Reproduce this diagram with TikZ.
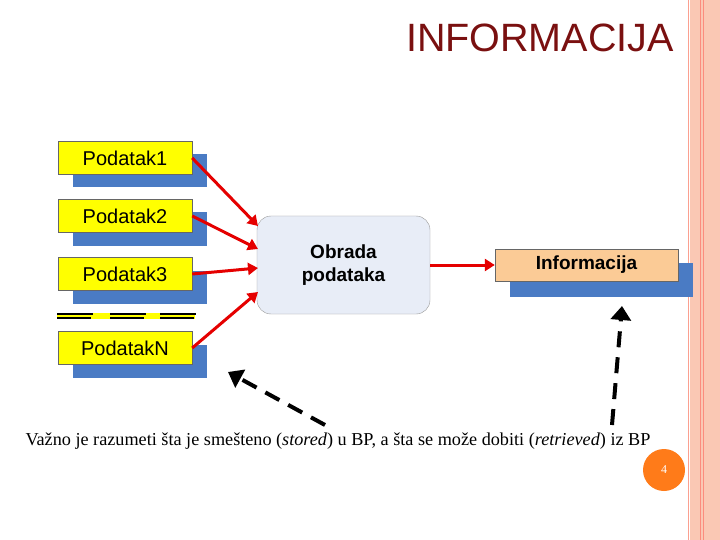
\documentclass[tikz,border=0pt]{standalone}
\usepackage{fontspec}
\setmainfont{Liberation Sans}
\newfontfamily\tms{Liberation Serif}
\usetikzlibrary{arrows.meta}
\definecolor{yel}{HTML}{FFFF00}
\definecolor{blu}{HTML}{4A7BC4}
\definecolor{peach}{HTML}{FAC8B4}
\definecolor{org}{HTML}{FBCB96}
\definecolor{ttl}{HTML}{7A1010}
\definecolor{obf}{HTML}{E8EDF7}
\tikzset{
 dat/.style={draw=black!60,fill=yel,minimum width=134pt,minimum height=33pt,inner sep=0pt,font=\fontsize{20}{20}\selectfont},
 shd/.style={fill=blu,minimum width=134pt,minimum height=33pt,inner sep=0pt},
 red/.style={draw=red!90!black,line width=3pt,-{Triangle[length=10pt,width=12pt]}},
 blk/.style={draw=black,line width=4pt,dash pattern=on 16pt off 10pt,-{Triangle[length=14pt,width=20pt]}}
}
\begin{document}
\begin{tikzpicture}[x=1pt,y=-1pt]
\useasboundingbox (0,0) rectangle (720,540);
\fill[white] (0,0) rectangle (720,540);
\fill[peach] (690,0) rectangle (720,540);
\draw[peach!80!red,line width=0.8pt] (688,0) -- (688,540);
\draw[peach!70!red,line width=0.8pt] (700,0) -- (700,540);
\draw[peach!70!red,line width=0.8pt] (703,0) -- (703,540);
\node[text=ttl,font=\fontsize{39.5}{40}\selectfont,anchor=east,inner sep=0pt] (title) at (674,38) {INFORMACIJA};
\foreach \n/\y/\t in {a/158/Podatak1,b/216/Podatak2,c/274/Podatak3,d/348/PodatakN}{
 \node[shd] (s\n) at (140,\y+13) {};
 \node[dat] (\n) at (125,\y) {\t};
}
\fill[yel] (57,313) rectangle (195,319);
\foreach \x in {57,110,160}{\draw[black,line width=2pt] (\x,314) -- (\x+36,314);\draw[black,line width=1.5pt] (\x,318) -- (\x+34,318);}
\node[draw=black!40,fill=obf,rounded corners=14pt,minimum width=173pt,minimum height=98pt,align=center,font=\bfseries\fontsize{19}{23}\selectfont] (ob) at (343.5,265) {Obrada\\podataka};
\node[fill=blu,minimum width=183pt,minimum height=34pt] (si) at (601.5,280) {};
\node[draw=black!60,fill=org,minimum width=183pt,minimum height=32pt,font=\bfseries\fontsize{19}{19}\selectfont] (inf) at (586.5,265) {Informacija};
\draw[red] (a.east) -- (258,226);
\draw[red] (b.east) -- (258,249);
\draw[red] (c.east) -- (258,268);
\draw[red] (d.east) -- (258,292);
\draw[red] (ob.east) -- (inf.west);
\coordinate (c1) at (325,425);
\coordinate (t1) at (228,372);
\coordinate (c2) at (612,425);
\coordinate (t2) at (622,306);
\draw[blk] (c1) -- (t1);
\draw[blk] (c2) -- (t2);
\node[font=\tms\fontsize{18.2}{18}\selectfont,inner sep=0pt] (cap) at (338,441) {Važno je razumeti šta je smešteno (\textit{stored}) u BP, a šta se može dobiti (\textit{retrieved}) iz BP};
\node[circle,fill=orange!85!red!90,minimum size=42pt,text=white,font=\tms\fontsize{12}{12}\selectfont] (pg) at (664,470) {4};
\end{tikzpicture}
\end{document}
